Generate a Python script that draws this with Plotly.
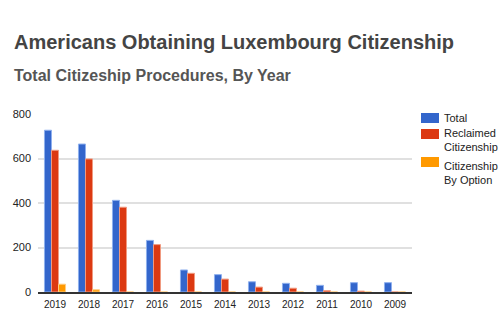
import plotly.graph_objects as go

years = ["2019", "2018", "2017", "2016", "2015", "2014", "2013", "2012", "2011", "2010", "2009"]
total = [727, 665, 412, 232, 99, 78, 46, 39, 30, 42, 42]
reclaimed = [637, 598, 381, 213, 84, 58, 22, 17, 6, 4, 0]
by_option = [35, 10, 0, 0, 0, 0, 0, 0, 0, 0, 0]
y_ticks = [0, 200, 400, 600, 800]

series = [
    (["Total"], total, "#3366cc", "#8fb0ee"),
    (["Reclaimed", "Citizenship"], reclaimed, "#dc3912", "#f09a80"),
    (["Citizenship", "By Option"], by_option, "#ff9900", "#ffcc80"),
]

W, H = 500, 333
fig = go.Figure()
for name, vals, col, edge in series:
    fig.add_trace(go.Bar(x=years, y=vals, name=" ".join(name), showlegend=False,
                         marker=dict(color=col, line=dict(color=edge, width=1))))

fig.update_layout(
    width=W, height=H,
    margin=dict(l=38, r=88, t=114, b=41),
    paper_bgcolor="white", plot_bgcolor="white",
    barmode="group", bargap=0.38, bargroupgap=0,
    font=dict(family="Liberation Sans, Arial", size=11, color="#222"),
    yaxis=dict(range=[0, 800], tickvals=y_ticks, gridcolor="#e0e0e0", gridwidth=1.5,
               zeroline=False, showline=False, ticks="", ticklabelstandoff=6),
    xaxis=dict(type="category", showline=True, linecolor="#333", linewidth=1.5, ticks="",
               tickfont=dict(size=10), ticklabelstandoff=2),
)

def px(x):
    return (x - 38) / (W - 38 - 88)

def py(y):
    return (H - 41 - y) / (H - 114 - 41)

fig.add_annotation(text="<b>Americans Obtaining Luxembourg Citizenship</b>", xref="paper", yref="paper",
                   x=px(12), y=py(42), xanchor="left", yanchor="middle", showarrow=False,
                   font=dict(size=20, color="#444"))
fig.add_annotation(text="<b>Total Citizeship Procedures, By Year</b>", xref="paper", yref="paper",
                   x=px(12), y=py(75), xanchor="left", yanchor="middle", showarrow=False,
                   font=dict(size=16, color="#555"))

# custom legend
for (lines, _, col, _e), top, text_y in zip(series, [113, 129, 157], [118, 133, 166]):
    fig.add_shape(type="rect", xref="paper", yref="paper", x0=px(421), x1=px(439), y0=py(top), y1=py(top + 10),
                  fillcolor=col, line=dict(width=0))
    for i, ln in enumerate(lines):
        fig.add_annotation(text=ln, xref="paper", yref="paper", x=px(442), y=py(text_y + 14 * i),
                           xanchor="left", yanchor="middle", align="left", showarrow=False,
                           font=dict(size=11, color="#222"))

fig.write_html("out.html")
